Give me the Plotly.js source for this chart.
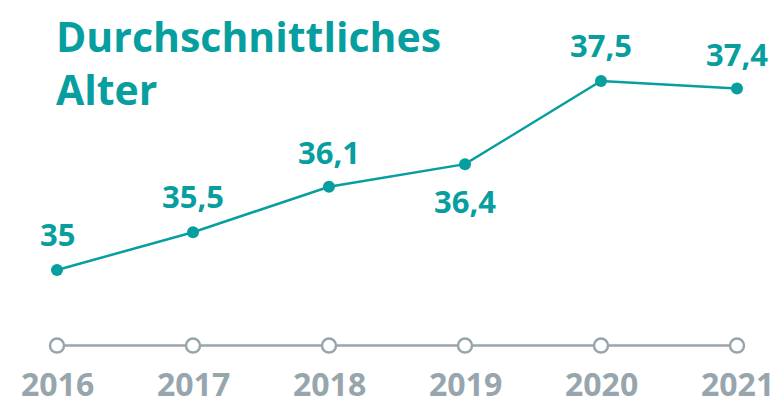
<!DOCTYPE html>
<html><head><meta charset="utf-8">
<script src="https://cdn.plot.ly/plotly-3.0.1.min.js"></script>
<style>html,body{margin:0;padding:0;background:#fff}#c{width:773px;height:414px}</style>
</head><body><div id="c"></div>
<script>
const years = [2016, 2017, 2018, 2019, 2020, 2021];
const ages = [35, 35.5, 36.1, 36.4, 37.5, 37.4];
const ageLabels = ['35', '35,5', '36,1', '36,4', '37,5', '37,4'];
const yearLabels = ['2016', '2017', '2018', '2019', '2020', '2021'];
const baseline = 34;
const labelShift = [36, 36, 35, -37, 36, 35];

const teal = '#079ea0';
const gray = '#97a5ad';
const fontFam = '"Open Sans", sans-serif';

const traces = [
  {x: years, y: years.map(() => baseline), mode: 'lines+markers', type: 'scatter',
   line: {color: gray, width: 2.5},
   marker: {size: 14, color: '#fff', line: {color: gray, width: 2.5}},
   hoverinfo: 'skip', cliponaxis: false},
  {x: years, y: ages, mode: 'lines+markers', type: 'scatter',
   line: {color: teal, width: 2.5},
   marker: {size: 12, color: teal},
   hoverinfo: 'skip', cliponaxis: false}
];

const annotations = [];
years.forEach((yr, i) => {
  annotations.push({x: yr, y: ages[i], xref: 'x', yref: 'y', text: '<b>' + ageLabels[i] + '</b>',
    showarrow: false, yshift: labelShift[i], xanchor: 'center', yanchor: 'middle',
    font: {family: fontFam, size: 31, color: teal}});
  annotations.push({x: yr, y: baseline, xref: 'x', yref: 'y', text: '<b>' + yearLabels[i] + '</b>',
    showarrow: false, yshift: -38, xanchor: 'center', yanchor: 'middle',
    font: {family: fontFam, size: 32, color: gray}});
});
annotations.push({xref: 'paper', yref: 'paper', x: 54/773, y: 1 - 6/414, xanchor: 'left', yanchor: 'top',
  align: 'left', showarrow: false, text: '<b>Durchschnittliches<br>Alter</b>',
  font: {family: fontFam, size: 41, color: teal}});

const layout = {
  width: 773, height: 414, margin: {l: 0, r: 0, t: 0, b: 0},
  paper_bgcolor: '#fff', plot_bgcolor: '#fff', showlegend: false,
  xaxis: {range: [2016 - 57/136, 2016 + 716/136], visible: false, fixedrange: true},
  yaxis: {range: [35 - 144/75.6, 35 + 270/75.6], visible: false, fixedrange: true},
  annotations: annotations
};
Plotly.newPlot('c', traces, layout, {staticPlot: true, displayModeBar: false});
</script></body></html>
